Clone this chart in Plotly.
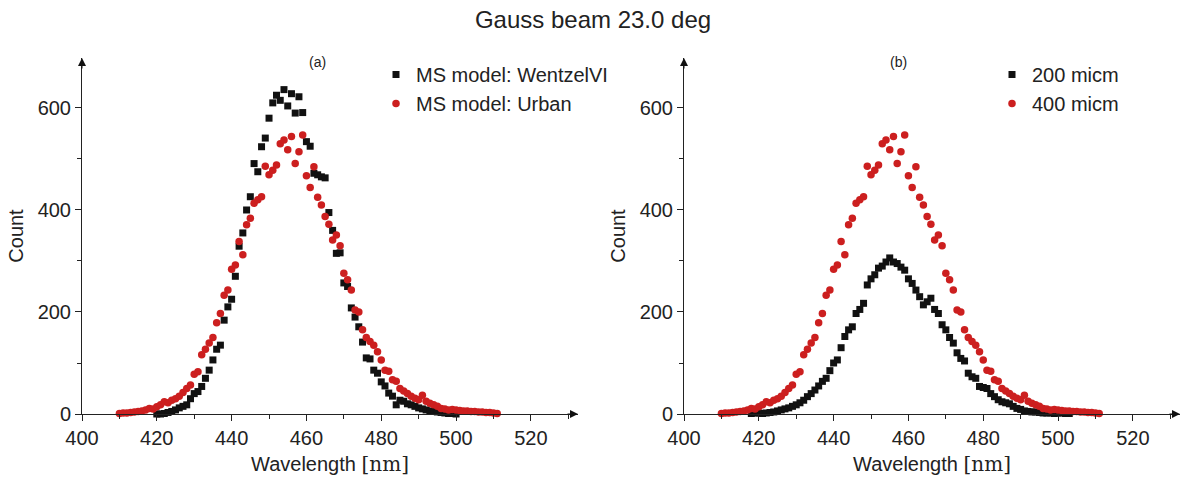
import plotly.graph_objects as go

# ---------------- data ----------------
wl_wentzel = list(range(420, 501))
count_wentzel = [0, 0, 1, 3, 5, 8, 12, 15, 18, 30,
                 40, 44, 54, 70, 86, 106, 127, 135, 184, 210,
                 225, 270, 329, 355, 400, 426, 491, 475, 524, 541,
                 580, 610, 625, 615, 636, 604, 628, 590, 622, 591,
                 534, 525, 472, 469, 465, 463, 395, 360, 315, 316,
                 257, 250, 208, 190, 171, 141, 110, 108, 86, 80,
                 63, 55, 41, 35, 18, 27, 25, 20, 18, 15,
                 12, 10, 8, 6, 5, 4, 3, 2, 1, 1, 0]

wl_urban = list(range(410, 512))
count_urban = [1, 2, 2, 3, 4, 5, 6, 8, 11, 10,
               14, 18, 24, 22, 27, 30, 35, 42, 50, 57,
               78, 83, 116, 127, 139, 150, 179, 197, 233, 243,
               284, 292, 338, 312, 371, 384, 413, 420, 426, 486,
               469, 478, 488, 530, 537, 518, 544, 491, 514, 547,
               467, 444, 485, 425, 410, 387, 372, 341, 351, 330,
               276, 263, 243, 204, 200, 165, 150, 142, 135, 122,
               106, 86, 84, 67, 64, 50, 45, 40, 35, 31,
               28, 37, 25, 21, 18, 15, 11, 10, 8, 9,
               8, 7, 6, 6, 5, 5, 4, 4, 3, 3, 2, 1]

wl_200 = list(range(418, 504))
count_200 = [1, 2, 2, 1, 2, 3, 4, 6, 8, 10,
             12, 15, 18, 22, 27, 34, 40, 47, 55, 64,
             70, 85, 100, 106, 130, 152, 165, 171, 197, 205,
             217, 253, 265, 273, 286, 290, 298, 306, 298, 295,
             288, 282, 265, 256, 243, 230, 214, 220, 227, 205,
             197, 175, 165, 150, 139, 120, 109, 104, 80, 73,
             70, 54, 52, 50, 40, 34, 28, 24, 22, 20,
             15, 11, 9, 6, 5, 4, 4, 3, 2, 2,
             2, 1, 2, 2, 1, 1]

wl_400 = wl_urban
count_400 = count_urban

x_ticks = [400, 420, 440, 460, 480, 500, 520]
y_ticks = [0, 200, 400, 600]

# ---------------- style ----------------
BLACK = "#111111"
RED = "#cc1f1f"
TXT = "#222222"
FONT = "Liberation Sans, Arial, sans-serif"
XMAX = 532.6
YMAX = 698

fig = go.Figure()

fig.add_trace(go.Scatter(x=wl_wentzel, y=count_wentzel, mode="markers",
                         name="MS model: WentzelVI",
                         marker=dict(symbol="square", size=7, color=BLACK),
                         cliponaxis=False, xaxis="x", yaxis="y", legend="legend"))
fig.add_trace(go.Scatter(x=wl_urban, y=count_urban, mode="markers",
                         name="MS model: Urban",
                         marker=dict(symbol="circle", size=7.5, color=RED),
                         cliponaxis=False, xaxis="x", yaxis="y", legend="legend"))
fig.add_trace(go.Scatter(x=wl_200, y=count_200, mode="markers",
                         name="200 micm",
                         marker=dict(symbol="square", size=7, color=BLACK),
                         cliponaxis=False, xaxis="x2", yaxis="y2", legend="legend2"))
fig.add_trace(go.Scatter(x=wl_400, y=count_400, mode="markers",
                         name="400 micm",
                         marker=dict(symbol="circle", size=7.5, color=RED),
                         cliponaxis=False, xaxis="x2", yaxis="y2", legend="legend2"))

xdom1 = [82 / 1186, 578 / 1186]
xdom2 = [684 / 1186, 1180 / 1186]
ydom = [(485 - 414) / 485, (485 - 58) / 485]

axis_common = dict(showline=True, linecolor="#222222", linewidth=1,
                   showgrid=False, zeroline=False, ticks="outside",
                   ticklen=6, tickcolor="#222222", automargin=False,
                   tickfont=dict(size=20, color=TXT, family=FONT))

xtitle = dict(text="Wavelength <span style='font-family:DejaVu Serif, serif'>[nm]</span>",
              font=dict(size=20, color=TXT, family=FONT), standoff=8)
ytitle = dict(text="Count", font=dict(size=20, color=TXT, family=FONT), standoff=8)

fig.update_layout(
    width=1186, height=485,
    margin=dict(l=0, r=0, t=0, b=0),
    paper_bgcolor="white", plot_bgcolor="white",
    font=dict(family=FONT, color=TXT),
    title=dict(text="Gauss beam 23.0 deg", x=0.5, xanchor="center",
               y=1 - 20 / 485, yanchor="middle",
               font=dict(size=24, color=TXT, family=FONT)),
    xaxis=dict(domain=xdom1, range=[400, XMAX], tickvals=x_ticks,
               minor=dict(dtick=10, tick0=400, ticks="outside", ticklen=4,
                          tickcolor="#222222"),
               title=xtitle, anchor="y", **axis_common),
    yaxis=dict(domain=ydom, range=[0, YMAX], tickvals=y_ticks,
               minor=dict(dtick=100, tick0=0, ticks="outside", ticklen=4,
                          tickcolor="#222222"),
               title=ytitle, anchor="x", **axis_common),
    xaxis2=dict(domain=xdom2, range=[400, XMAX], tickvals=x_ticks,
                minor=dict(dtick=10, tick0=400, ticks="outside", ticklen=4,
                           tickcolor="#222222"),
                title=xtitle, anchor="y2", **axis_common),
    yaxis2=dict(domain=ydom, range=[0, YMAX], tickvals=y_ticks,
                minor=dict(dtick=100, tick0=0, ticks="outside", ticklen=4,
                           tickcolor="#222222"),
                title=ytitle, anchor="x2", **axis_common),
    legend=dict(x=376 / 1186, y=(485 - 55) / 485, xanchor="left", yanchor="top",
                bgcolor="rgba(0,0,0,0)", font=dict(size=20, color=TXT, family=FONT),
                itemwidth=30, tracegroupgap=0),
    legend2=dict(x=992 / 1186, y=(485 - 55) / 485, xanchor="left", yanchor="top",
                 bgcolor="rgba(0,0,0,0)", font=dict(size=20, color=TXT, family=FONT),
                 itemwidth=30, tracegroupgap=0),
    showlegend=True,
)

# subplot labels
fig.add_annotation(text="(a)", x=307 / 1186, y=1 - 52 / 485, xref="paper", yref="paper",
                   showarrow=False, font=dict(size=14, color=TXT, family=FONT))
fig.add_annotation(text="(b)", x=909 / 1186, y=1 - 52 / 485, xref="paper", yref="paper",
                   showarrow=False, font=dict(size=14, color=TXT, family=FONT))

# axis arrowheads
for xr, yr in (("x", "y"), ("x2", "y2")):
    fig.add_annotation(x=XMAX, y=0, xref=xr, yref=yr, ax=-12, ay=0,
                       showarrow=True, arrowhead=2, arrowsize=1.6, arrowwidth=1,
                       arrowcolor="#111111", text="", standoff=0)
    fig.add_annotation(x=400, y=YMAX, xref=xr, yref=yr, ax=0, ay=12,
                       showarrow=True, arrowhead=2, arrowsize=1.6, arrowwidth=1,
                       arrowcolor="#111111", text="", standoff=0)

fig.write_html("out.html")
